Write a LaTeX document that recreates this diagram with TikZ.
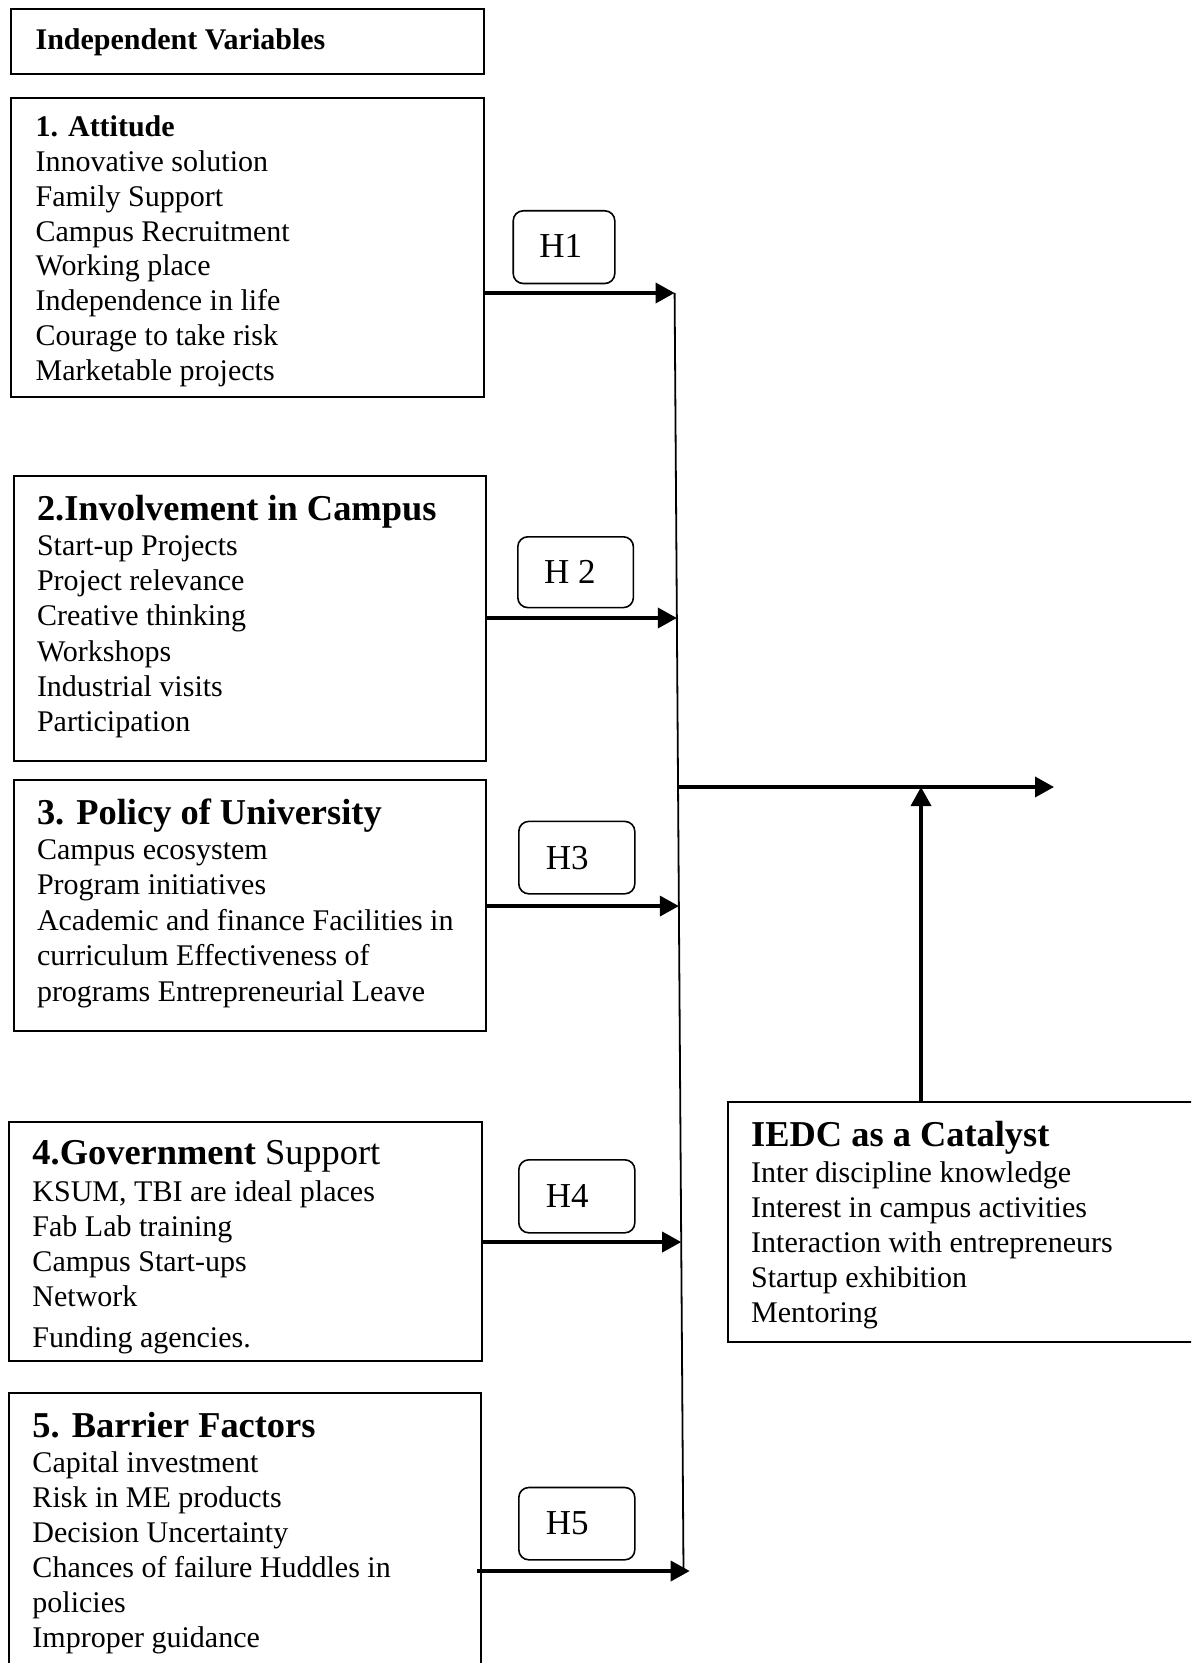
\documentclass[tikz,border=0pt]{standalone}
\usepackage{fontspec}
\setmainfont{Liberation Serif}
\usetikzlibrary{arrows.meta,calc}
\begin{document}
\begin{tikzpicture}[x=0.5pt,y=-0.5pt]
\tikzset{
  vbox/.style={draw, line width=1pt, inner sep=0pt, anchor=north west},
  hbox/.style={draw, line width=0.8pt, rounded corners=5pt, inner sep=0pt, anchor=north west},
  txt/.style={anchor=base west, inner sep=0pt, font=\fontsize{15}{#1}\selectfont},
  txt/.default=17.5pt,
  hlab/.style={anchor=base west, inner sep=0pt, font=\fontsize{17.5}{20}\selectfont},
  link/.style={line width=1.8pt, -{Triangle[length=9.5pt,width=10pt]}},
  trunk/.style={line width=0.9pt},
}
\newcommand{\ttl}{\fontsize{18.2}{20}\selectfont\bfseries}
\path[use as bounding box] (0,0) rectangle (1191,1663);
\clip (0,0) rectangle (1191,1663);
\fill[white] (0,0) rectangle (1191,1663);

% boxes
\node[vbox, minimum width=236.15pt, minimum height=32.5pt]  (iv) at (10.3,8.3) {};
\node[vbox, minimum width=236.15pt, minimum height=149.65pt] (b1) at (10.3,96.7) {};
\node[vbox, minimum width=236.25pt, minimum height=142.3pt] (b2) at (12.5,475) {};
\node[vbox, minimum width=236.25pt, minimum height=125.25pt] (b3) at (12.5,779) {};
\node[vbox, minimum width=236.85pt, minimum height=119.9pt] (b4) at (7.6,1120.5) {};
\node[vbox, minimum width=236.2pt, minimum height=144.2pt] (b5) at (7.6,1391.6) {};
\node[vbox, minimum width=236.7pt, minimum height=120.15pt] (ie) at (726.6,1101) {};

% texts
\node[txt] (ivt) at (35.2,50) {\bfseries Independent Variables};
\node[txt=17.4pt] (t1) at (35.2,136.7) {\begin{tabular}[t]{@{}l@{}}
\bfseries 1. Attitude\\
Innovative solution\\
Family Support\\
Campus Recruitment\\
Working place\\
Independence in life\\
Courage to take risk\\
Marketable projects
\end{tabular}};
\node[txt=17.55pt] (t2) at (36.6,520.6) {\begin{tabular}[t]{@{}l@{}}
{\ttl 2.Involvement in Campus}\\
Start-up Projects\\
Project relevance\\
Creative thinking\\
Workshops\\
Industrial visits\\
Participation
\end{tabular}};
\node[txt=17.7pt] (t3) at (36.6,824) {\begin{tabular}[t]{@{}l@{}}
{\ttl 3. Policy of University}\\
Campus ecosystem\\
Program initiatives\\
Academic and finance Facilities in\\
curriculum Effectiveness of\\
programs Entrepreneurial Leave
\end{tabular}};
\node[txt=17.5pt] (t4) at (32.1,1164.6) {\begin{tabular}[t]{@{}l@{}}
{\ttl 4.Government \mdseries Support}\\[1pt]
KSUM, TBI are ideal places\\
Fab Lab training\\
Campus Start-ups\\
Network\\[2.75pt]
Funding agencies.
\end{tabular}};
\node[txt=17.5pt] (t5) at (32.1,1437.5) {\begin{tabular}[t]{@{}l@{}}
{\ttl 5. Barrier Factors}\\
Capital investment\\
Risk in ME products\\
Decision Uncertainty\\
Chances of failure Huddles in\\
policies\\
Improper guidance
\end{tabular}};
\node[txt=17.55pt] (tie) at (750.8,1146.9) {\begin{tabular}[t]{@{}l@{}}
{\ttl IEDC as a Catalyst}\\
Inter discipline knowledge\\
Interest in campus activities\\
Interaction with entrepreneurs\\
Startup exhibition\\
Mentoring
\end{tabular}};

% hypothesis boxes
\node[hbox, minimum width=50.8pt, minimum height=36.35pt] (h1) at (512.4,210) {};
\node[hbox, minimum width=57.8pt, minimum height=35.4pt] (h2) at (517,536) {};
\node[hbox, minimum width=58pt, minimum height=36.2pt] (h3) at (518,820.6) {};
\node[hbox, minimum width=58pt, minimum height=36.5pt] (h4) at (518,1159) {};
\node[hbox, minimum width=58pt, minimum height=36.15pt] (h5) at (518,1486.7) {};
\node[hlab] (h1t) at (539,258) {H1};
\node[hlab] (h2t) at (543.8,583.8) {H 2};
\node[hlab] (h3t) at (545.5,869) {H3};
\node[hlab] (h4t) at (545.5,1207.7) {H4};
\node[hlab] (h5t) at (545.5,1534.5) {H5};

% trunk and junctions
\coordinate (jt) at (674.6,293);
\coordinate (jb) at (683.5,1571);
\coordinate (j1) at (jt);
\coordinate (j2) at ($(jt)!0.2543!(jb)$);
\coordinate (j3) at ($(jt)!0.4797!(jb)$);
\coordinate (j4) at ($(jt)!0.7426!(jb)$);
\coordinate (j5) at (689.7,1571);
\coordinate (jo) at ($(jt)!0.3865!(jb)$);
\coordinate (out) at (1054,787);
\coordinate (up) at ($(ie.north west)+(194.4,0)$);

\draw[trunk] (jt) -- (jb);
\draw[link] (b1.east |- j1) -- (j1);
\draw[link] (b2.east |- j2) -- (j2);
\draw[link] (b3.east |- j3) -- (j3);
\draw[link] (b4.east |- j4) -- (j4);
\draw[link] ($(b5.east |- j5)+(-5,0)$) -- (j5);
\draw[link] (jo) -- (out);
\draw[link] (up) -- (up |- out);
\end{tikzpicture}
\end{document}
